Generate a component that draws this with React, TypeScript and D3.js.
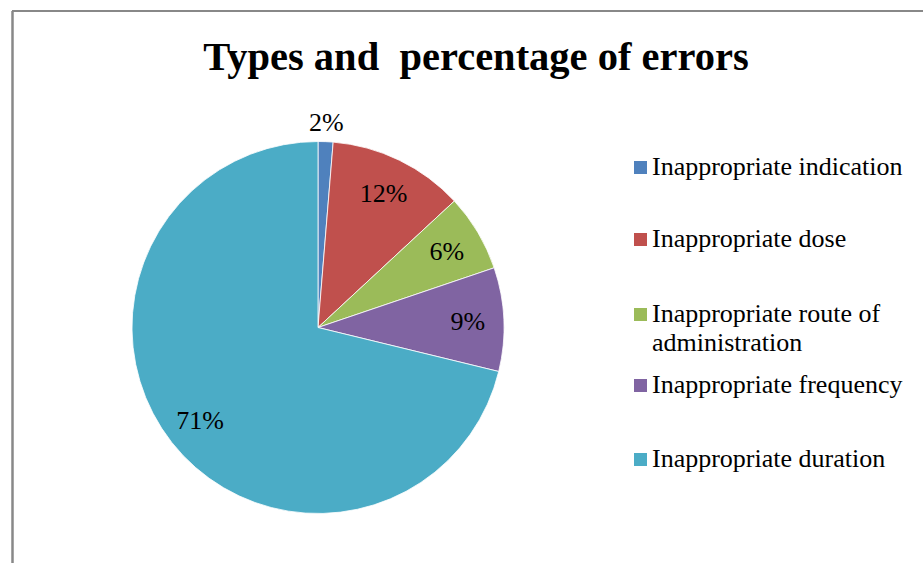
import React from "react";
import * as d3 from "d3";

const categories = [
  "Inappropriate indication",
  "Inappropriate dose",
  "Inappropriate route of administration",
  "Inappropriate frequency",
  "Inappropriate duration",
];
const values = [1.3, 11.8, 6.7, 9.0, 71.2];
const valueLabels = ["2%", "12%", "6%", "9%", "71%"];
const colors = ["#4F81BD", "#C0504D", "#9BBB59", "#8064A2", "#4BACC6"];
const legendLines = [
  ["Inappropriate indication"],
  ["Inappropriate dose"],
  ["Inappropriate route of", "administration"],
  ["Inappropriate frequency"],
  ["Inappropriate duration"],
];

const W = 923;
const H = 563;
const cx = 318;
const cy = 327.5;
const R = 186;
const font = "'Liberation Serif', 'Times New Roman', serif";

export default function App() {
  const pie = d3.pie<number>().sort(null).value((d) => d);
  const arcs = pie(values);
  const arcGen = d3.arc<d3.PieArcDatum<number>>().innerRadius(0).outerRadius(R);
  const labelArc = d3.arc<d3.PieArcDatum<number>>().innerRadius(150).outerRadius(150);
  const outerArc = d3.arc<d3.PieArcDatum<number>>().innerRadius(206).outerRadius(206);

  const legendBaselines = [175, 247, 322, 393, 467];

  return (
    <svg
      width={W}
      height={H}
      style={{ position: "absolute", left: 0, top: 0, background: "#fff" }}
    >
      <line x1={12} y1={11} x2={W} y2={11} stroke="#888" strokeWidth={2} />
      <line x1={12.5} y1={11} x2={12.5} y2={H} stroke="#888" strokeWidth={2.5} />
      <text
        x={476}
        y={70}
        textAnchor="middle"
        fontFamily={font}
        fontWeight="bold"
        fontSize={40.5}
        fill="#000"
        style={{ whiteSpace: "pre" }}
      >
        {"Types and  percentage of errors"}
      </text>
      <g transform={`translate(${cx},${cy})`}>
        {arcs.map((a, i) => (
          <path key={i} d={arcGen(a) || ""} fill={colors[i]} stroke="#fff" strokeWidth={0.8} />
        ))}
        {arcs.map((a, i) => {
          const [x, y] = i === 0 ? outerArc.centroid(a) : labelArc.centroid(a);
          return (
            <text
              key={"l" + i}
              x={x}
              y={y}
              dy="0.35em"
              textAnchor="middle"
              fontFamily={font}
              fontSize={26}
              fill="#000"
            >
              {valueLabels[i]}
            </text>
          );
        })}
      </g>
      <g>
        {categories.map((c, i) => (
          <g key={c}>
            <rect
              x={634}
              y={legendBaselines[i] - 14}
              width={13}
              height={13}
              fill={colors[i]}
            />
            {legendLines[i].map((line, j) => (
              <text
                key={j}
                x={652}
                y={legendBaselines[i] + j * 29}
                fontFamily={font}
                fontSize={26}
                fill="#000"
              >
                {line}
              </text>
            ))}
          </g>
        ))}
      </g>
    </svg>
  );
}
